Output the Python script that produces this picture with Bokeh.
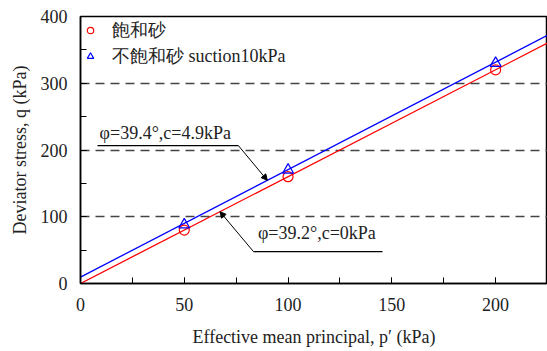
from bokeh.plotting import figure
from bokeh.models import (Range1d, SingleIntervalTicker, FixedTicker, Arrow, NormalHead,
                          Label, Legend, LegendItem)
from bokeh.embed import file_html
from bokeh.resources import INLINE

# ---- data ----
p_sat = [50, 100, 200]
q_sat = [80, 160, 320]
p_unsat = [50, 100, 200]
q_unsat = [88, 170, 330]

# fitted failure lines q = intercept + slope * p
sat_slope, sat_intercept = 1.601, 0.0
unsat_slope, unsat_intercept = 1.610, 9.6
line_p = [0, 225]

sat_label = "飽和砂"
unsat_label = "不飽和砂 suction10kPa"
ann_unsat = "φ=39.4°,c=4.9kPa"
ann_sat = "φ=39.2°,c=0kPa"

FONT = "Liberation Serif"

p = figure(width=547, height=351, output_backend="svg", toolbar_location=None,
           x_range=Range1d(0, 225), y_range=Range1d(0, 400),
           min_border_left=80, min_border_right=0, min_border_top=16, min_border_bottom=68)
p.background_fill_color = "white"
p.border_fill_color = "white"
p.outline_line_color = "black"
p.outline_line_width = 1.5

# grid: dashed at 100,200,300
p.xgrid.visible = False
p.ygrid.ticker = FixedTicker(ticks=[100, 200, 300])
p.ygrid.grid_line_color = "#444444"
p.ygrid.grid_line_dash = "9 6"
p.ygrid.grid_line_width = 1.5

p.xaxis.ticker = SingleIntervalTicker(interval=50, num_minor_ticks=2)
p.yaxis.ticker = SingleIntervalTicker(interval=100, num_minor_ticks=2)
for ax in (p.xaxis[0], p.yaxis[0]):
    ax.major_tick_in = 6
    ax.major_tick_out = 0
    ax.minor_tick_in = 6
    ax.minor_tick_out = 0
    ax.axis_line_width = 1.5
    ax.axis_line_color = "black"
    ax.major_tick_line_color = "black"
    ax.minor_tick_line_color = "black"
    ax.major_label_text_font = FONT
    ax.major_label_text_font_size = "18px"
    ax.major_label_text_color = "#222222"
    ax.axis_label_text_font = FONT
    ax.axis_label_text_font_size = "18px"
    ax.axis_label_text_font_style = "normal"
    ax.axis_label_text_color = "#222222"

p.xaxis.axis_label = "Effective mean principal, p′ (kPa)"
p.yaxis.axis_label = "Deviator stress, q (kPa)"
p.xaxis.major_label_standoff = 14
p.xaxis.axis_label_standoff = 13
p.yaxis.major_label_standoff = 13
p.yaxis.axis_label_standoff = 8

# failure lines
sat_line_q = [sat_intercept + sat_slope * x for x in line_p]
unsat_line_q = [unsat_intercept + unsat_slope * x for x in line_p]
p.line(line_p, sat_line_q, line_color="#ff0000", line_width=1.3)
p.line(line_p, unsat_line_q, line_color="#0000ff", line_width=1.3)

r_sat = p.scatter(p_sat, q_sat, marker="circle", size=10, fill_color=None,
                  line_color="#ff0000", line_width=1.2)
r_unsat = p.scatter(p_unsat, q_unsat, marker="triangle", size=11, fill_color=None,
                    line_color="#0000ff", line_width=1.2)

legend = Legend(items=[LegendItem(label=sat_label, renderers=[r_sat]),
                       LegendItem(label=unsat_label, renderers=[r_unsat])],
                location="top_left", background_fill_alpha=0, border_line_alpha=0,
                label_text_font=FONT, label_text_font_size="18px",
                label_text_color="#222222", glyph_width=16, glyph_height=16,
                label_standoff=14, label_height=20,
                spacing=2, padding=2, margin=0)
p.add_layout(legend)

# annotation for unsaturated line
ux_end = 90.0
p.add_layout(Label(x=9.2, y=210, text=ann_unsat, text_font=FONT, text_font_size="18px",
                   text_color="#222222"))
p.segment(x0=[8.2], y0=[206.5], x1=[76.1], y1=[206.5], line_color="black", line_width=1.2)
p.add_layout(Arrow(end=NormalHead(size=6, fill_color="black", line_color="black"),
                   x_start=76.1, y_start=206.5, x_end=ux_end,
                   y_end=unsat_intercept + unsat_slope * ux_end,
                   line_color="black", line_width=1))

# annotation for saturated line
sx_end = 67.2
p.add_layout(Label(x=85.5, y=61, text=ann_sat, text_font=FONT, text_font_size="18px",
                   text_color="#222222"))
p.segment(x0=[83.3], y0=[47.9], x1=[145.5], y1=[47.9], line_color="black", line_width=1.2)
p.add_layout(Arrow(end=NormalHead(size=6, fill_color="black", line_color="black"),
                   x_start=83.3, y_start=47.9, x_end=sx_end,
                   y_end=sat_intercept + sat_slope * sx_end,
                   line_color="black", line_width=1))

open("out.html", "w").write(file_html(p, INLINE))
